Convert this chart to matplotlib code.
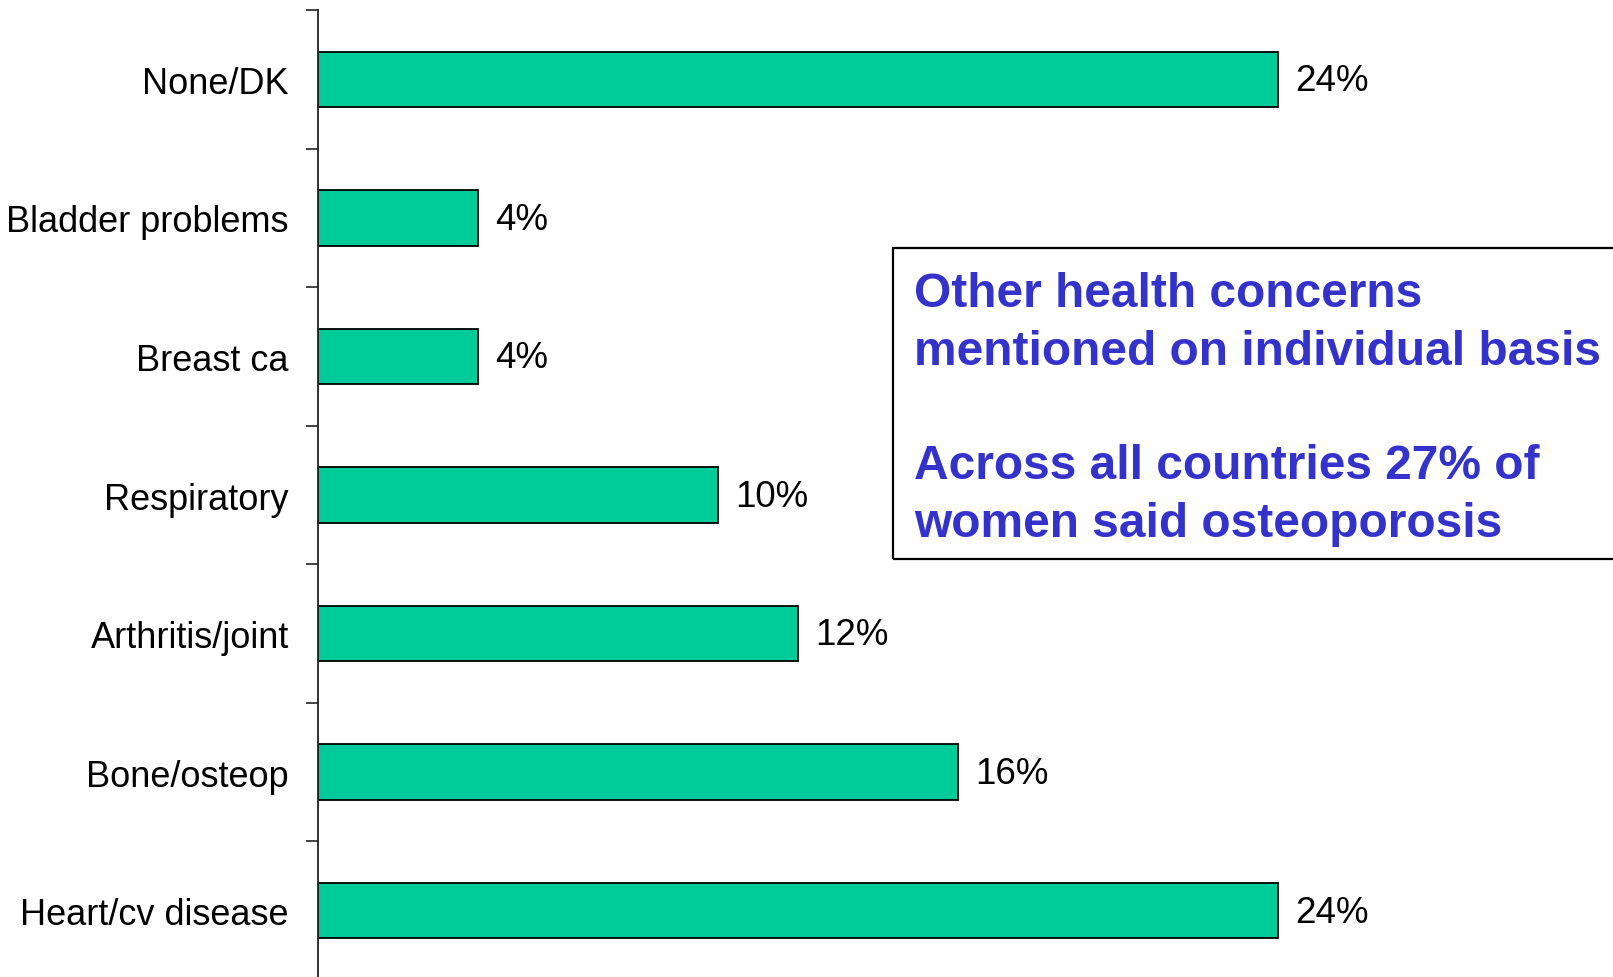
import numpy as np
import matplotlib.pyplot as plt
from matplotlib.patches import Rectangle

plt.rcParams['font.family'] = ['Liberation Sans', 'DejaVu Sans']

categories = ["None/DK", "Bladder problems", "Breast ca", "Respiratory",
              "Arthritis/joint", "Bone/osteop", "Heart/cv disease"]
values = [24, 4, 4, 10, 12, 16, 24]
box_lines = ["Other health concerns", "mentioned on individual basis", "",
             "Across all countries 27% of", "women said osteoporosis"]

W, H = 1613, 978
fig = plt.figure(figsize=(W / 100, H / 100), dpi=100)
# axes placed in pixel terms: y-axis at x=318, category bands from y=11 to y=981
ax = fig.add_axes([318 / W, (H - 981) / H, 1 - 318 / W, 970 / H])

y = np.arange(len(categories))
ax.barh(y, values, height=0.40, color="#00CC99", edgecolor="black", linewidth=1.3)
for yi, v in zip(y, values):
    ax.annotate(f"{v}%", (v, yi), xytext=(12.5, -1), textcoords="offset points",
                va="center", ha="left", fontsize=26.5)

ax.set_xlim(0, (W - 318) / 40)
ax.set_ylim(len(categories) - 0.5, -0.5)
ax.set_yticks(y)
ax.set_yticklabels(categories, fontsize=26)
ax.tick_params(axis="y", which="major", length=0, pad=21)
ax.set_yticks(np.arange(-0.5, len(categories) - 1, 1.0), minor=True)
ax.tick_params(axis="y", which="minor", length=9, width=1.2, color="#222222")
ax.set_xticks([])
for s in ["top", "right", "bottom"]:
    ax.spines[s].set_visible(False)
ax.spines["left"].set_linewidth(1.3)
ax.spines["left"].set_color("#222222")

# annotation box
fig.patches.append(Rectangle((893 / W, (H - 560) / H), (W + 10 - 893) / W, (560 - 249) / H,
                             transform=fig.transFigure, fill=False,
                             edgecolor="black", linewidth=1.6))
baselines = [307, 365, 422, 479, 537]
for line, b in zip(box_lines, baselines):
    if line:
        fig.text(914 / W, (H - b) / H, line, fontsize=34.5, fontweight="bold",
                 color="#3333CC", ha="left", va="baseline")

fig.savefig("out.png", dpi=100)
